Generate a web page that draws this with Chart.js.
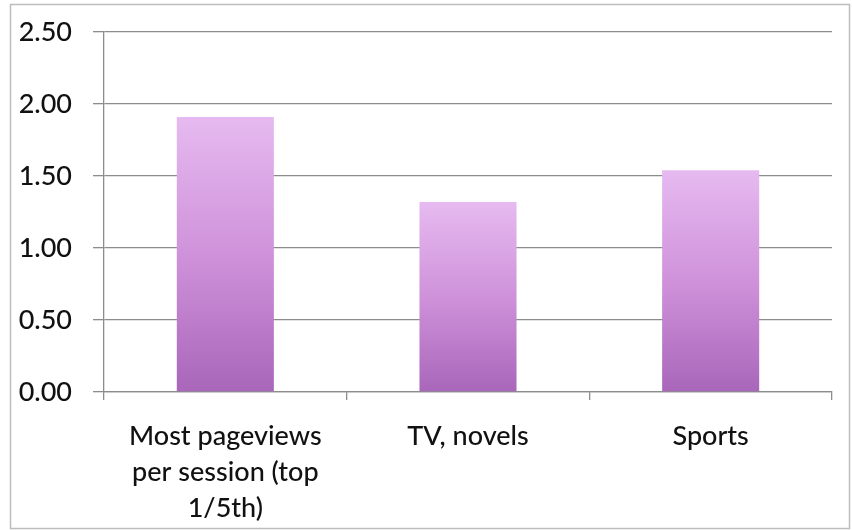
<!DOCTYPE html>
<html>
<head>
<meta charset="utf-8">
<script src="https://cdn.jsdelivr.net/npm/chart.js@4/dist/chart.umd.min.js"></script>
<style>
  html, body { margin: 0; padding: 0; background: #fff; }
  #wrap { width: 852px; height: 530px; position: relative; }
</style>
</head>
<body>
<div id="wrap"><canvas id="chart" width="852" height="530"></canvas></div>
<script>
// Categories (multi-line labels) and their values
const categories = [
  ["Most pageviews", "per session (top", "1/5th)"],
  ["TV, novels"],
  ["Sports"]
];
const values = [1.91, 1.32, 1.54];

// Value axis range and step
const yMin = 0;
const yMax = 2.5;
const yStep = 0.5;

const FONT = "Lato, 'Open Sans', sans-serif";

// Vertical gradient per bar: light lavender at the top, deeper purple at the base
function barGradient(ctx) {
  const chart = ctx.chart;
  const area = chart.chartArea;
  if (!area) return '#d08ed8';
  const yScale = chart.scales.y;
  const v = ctx.raw;
  const top = yScale.getPixelForValue(v);
  const base = yScale.getPixelForValue(0);
  const g = chart.ctx.createLinearGradient(0, top, 0, base);
  g.addColorStop(0, '#e6baf0');
  g.addColorStop(0.5, '#cf92da');
  g.addColorStop(1, '#a966ba');
  return g;
}

// White page with a light grey frame around the whole chart
const framePlugin = {
  id: 'frame',
  beforeDraw(chart) {
    const c = chart.ctx;
    c.save();
    c.fillStyle = '#ffffff';
    c.fillRect(0, 0, chart.width, chart.height);
    c.strokeStyle = '#bdbdbd';
    c.lineWidth = 1.5;
    c.strokeRect(10.5, 4.5, 839, 524);
    c.restore();
  }
};

new Chart(document.getElementById('chart'), {
  type: 'bar',
  data: {
    labels: categories,
    datasets: [{
      data: values,
      backgroundColor: barGradient,
      borderWidth: 0,
      categoryPercentage: 0.4,
      barPercentage: 1.0
    }]
  },
  options: {
    responsive: false,
    animation: false,
    layout: { padding: { left: 0, right: 20, top: 32, bottom: 0 } },
    plugins: {
      legend: { display: false },
      tooltip: { enabled: false }
    },
    scales: {
      x: {
        afterFit(scale) { scale.height = 138; },
        grid: {
          offset: true,
          drawOnChartArea: false,
          drawTicks: true,
          tickLength: 8,
          color: '#8c8c8c',
          lineWidth: 1.3
        },
        border: { display: true, color: '#8c8c8c', width: 1.3 },
        ticks: {
          color: '#111111',
          font: { family: FONT, size: 27, weight: '500', lineHeight: 1.34 },
          padding: 18,
          maxRotation: 0,
          autoSkip: false
        }
      },
      y: {
        min: yMin,
        max: yMax,
        afterFit(scale) {
          scale.width = 104;
          scale.paddingTop = 0;
          scale.paddingBottom = 0;
        },
        grid: {
          color: '#8c8c8c',
          lineWidth: 1.3,
          drawTicks: true,
          tickLength: 11
        },
        border: { display: true, color: '#8c8c8c', width: 1.3 },
        ticks: {
          stepSize: yStep,
          color: '#111111',
          font: { family: FONT, size: 27, weight: '500' },
          padding: 21,
          callback: (v) => Number(v).toFixed(2)
        }
      }
    }
  },
  plugins: [framePlugin]
});
</script>
</body>
</html>
